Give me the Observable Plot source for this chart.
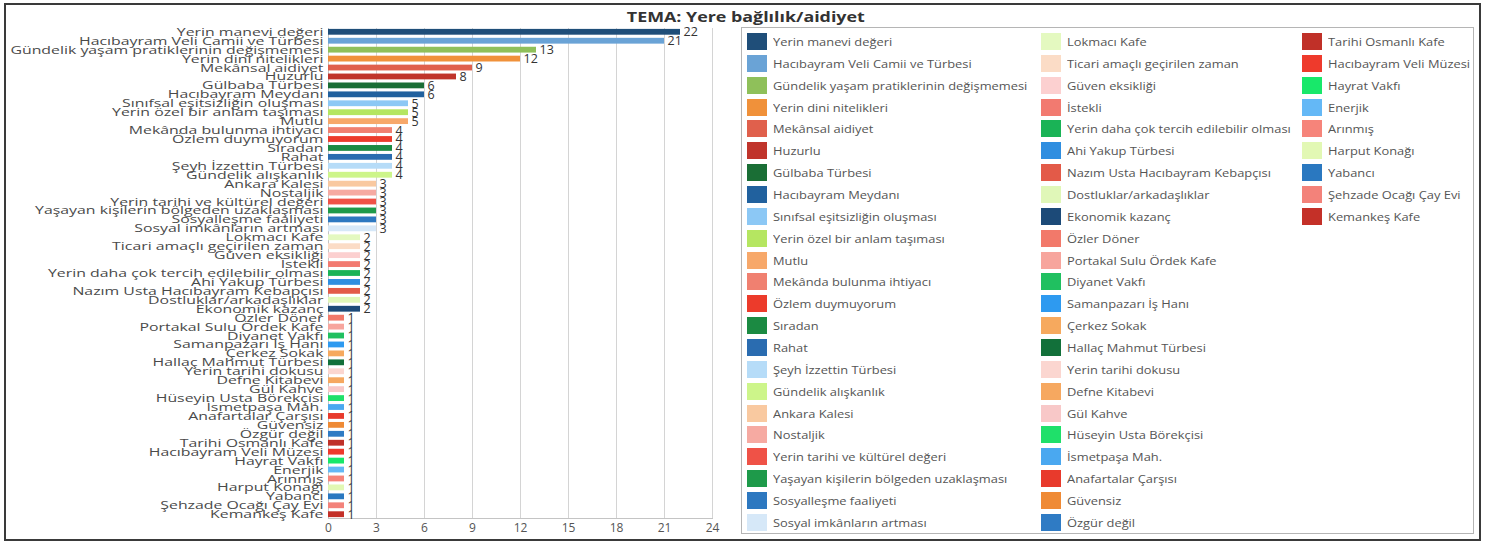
<!DOCTYPE html>
<html><head><meta charset="utf-8">
<script src="https://cdn.jsdelivr.net/npm/d3@7"></script>
<script src="https://cdn.jsdelivr.net/npm/@observablehq/plot@0.6"></script>
<style>
body{margin:0;background:#fff;width:1492px;height:544px;overflow:hidden;font-family:"Open Sans",sans-serif;position:relative}
#frame{position:absolute;left:4px;top:3px;width:1473px;height:534px;border:2px solid #3a3a3a;}
#title{position:absolute;left:0;width:1492px;top:6px;text-align:center;font-weight:bold;font-size:15px;color:#333;line-height:20px;transform:scaleX(1.19);transform-origin:747px 50%}
#chart{position:absolute;left:0;top:0;}
#legend{position:absolute;left:741px;top:27px;width:731px;height:505px;border:1px solid #b5b5b5;}
.item{position:absolute;height:17px;font-size:11px;color:#555;white-space:nowrap;line-height:17px}
.sw{display:inline-block;width:20px;height:17px;vertical-align:top;margin-right:6px}
.lt{display:inline-block;transform:scaleX(1.17);transform-origin:0 50%}
</style>
</head><body>
<div id="frame"></div>
<div id="title">TEMA: Yere bağlılık/aidiyet</div>
<div id="chart"></div>
<div id="legend"></div>
<script>
const categories = [
"Yerin manevi değeri","Hacıbayram Veli Camii ve Türbesi","Gündelik yaşam pratiklerinin değişmemesi","Yerin dini nitelikleri","Mekânsal aidiyet","Huzurlu","Gülbaba Türbesi","Hacıbayram Meydanı","Sınıfsal eşitsizliğin oluşması","Yerin özel bir anlam taşıması","Mutlu","Mekânda bulunma ihtiyacı","Özlem duymuyorum","Sıradan","Rahat","Şeyh İzzettin Türbesi","Gündelik alışkanlık","Ankara Kalesi","Nostaljik","Yerin tarihi ve kültürel değeri","Yaşayan kişilerin bölgeden uzaklaşması","Sosyalleşme faaliyeti","Sosyal imkânların artması",
"Lokmacı Kafe","Ticari amaçlı geçirilen zaman","Güven eksikliği","İstekli","Yerin daha çok tercih edilebilir olması","Ahi Yakup Türbesi","Nazım Usta Hacıbayram Kebapçısı","Dostluklar/arkadaşlıklar","Ekonomik kazanç","Özler Döner","Portakal Sulu Ördek Kafe","Diyanet Vakfı","Samanpazarı İş Hanı","Çerkez Sokak","Hallaç Mahmut Türbesi","Yerin tarihi dokusu","Defne Kitabevi","Gül Kahve","Hüseyin Usta Börekçisi","İsmetpaşa Mah.","Anafartalar Çarşısı","Güvensiz","Özgür değil",
"Tarihi Osmanlı Kafe","Hacıbayram Veli Müzesi","Hayrat Vakfı","Enerjik","Arınmış","Harput Konağı","Yabancı","Şehzade Ocağı Çay Evi","Kemankeş Kafe"];
const values = [22,21,13,12,9,8,6,6,5,5,5,4,4,4,4,4,4,3,3,3,3,3,3,2,2,2,2,2,2,2,2,2,1,1,1,1,1,1,1,1,1,1,1,1,1,1,1,1,1,1,1,1,1,1,1];
const colors = [
"#1f4e79","#6aa3d6","#8fc05a","#f0913a","#e0604c","#c0342b","#1a6e35","#21619e","#8cc8f5","#b5e661","#f7a86a","#f08070","#ec3b2b","#1b8a42","#2a6cb0","#b6dcf8","#cdf58a","#f9c9a0","#f6aaa2","#ef5247","#1e9a4a","#2d78c0","#d6e8f8",
"#e4f9c0","#fbdcc6","#fcd0d0","#f27a70","#1ab356","#2f8ee0","#e35a48","#e0f7b8","#1c4a78","#f2796a","#f7a59d","#20c060","#2e9af0","#f6a95e","#12703a","#fbd6d0","#f6a860","#f8c8c8","#1fe06a","#4aa8f0","#e83a2c","#ef8a35","#2f7bc4",
"#c03028","#ee3a2c","#18e86a","#64b8f6","#f6847a","#e2f8b4","#2a78c0","#f3827a","#c43028"];
const xTicks = [0,3,6,9,12,15,18,21,24];
const legendColumns = [23,23,9];

const data = categories.map((name,i)=>({name, value: values[i]}));

const chart = Plot.plot({
  width: 735,
  height: 544,
  marginLeft: 328,
  marginRight: 23,
  marginTop: 28,
  marginBottom: 26,
  style: {fontFamily: '"Open Sans", sans-serif', background: "transparent"},
  x: {domain: [0,24]},
  y: {domain: categories, paddingInner: 0.35, paddingOuter: 0.1},
  color: {domain: categories, range: colors},
  marks: [
    Plot.gridX(xTicks, {stroke: "#d4d4d4", strokeOpacity: 1}),
    Plot.ruleX([0], {stroke: "#c4c4c4"}),
    Plot.frame({anchor: "bottom", stroke: "#c4c4c4"}),
    Plot.barX(data, {x: "value", y: "name", fill: "name"}),
    Plot.text(data, {x: "value", y: "name", text: d => String(d.value), dx: 3, textAnchor: "start", fontSize: 12.5, fill: "#333", ariaLabel: "value-label"}),
    Plot.axisX(xTicks, {tickSize: 0, tickPadding: 5, fontSize: 12, fill: "#555", label: null}),
    Plot.axisY({tickSize: 0, tickPadding: 5, fontSize: 11, fill: "#4a4a4a", label: null})
  ]
});
document.getElementById("chart").appendChild(chart);

function stretch(sel, k) {
  chart.querySelectorAll(sel).forEach(t => {
    const w = t.getComputedTextLength();
    t.setAttribute("textLength", (w * k).toFixed(1));
    t.setAttribute("lengthAdjust", "spacingAndGlyphs");
  });
}
stretch('g[aria-label="y-axis tick label"] text', 1.44);
stretch('g[aria-label="value-label"] text', 1.1);

const legend = document.getElementById("legend");
const colX = [5, 299, 560];
let idx = 0;
legendColumns.forEach((n, c) => {
  for (let r = 0; r < n; r++, idx++) {
    const div = document.createElement("div");
    div.className = "item";
    div.style.left = colX[c] + "px";
    div.style.top = (5 + r * 21.86) + "px";
    const sw = document.createElement("span");
    sw.className = "sw";
    sw.style.background = colors[idx];
    div.appendChild(sw);
    const lt = document.createElement("span");
    lt.className = "lt";
    lt.textContent = categories[idx];
    div.appendChild(lt);
    legend.appendChild(div);
  }
});
</script>
</body></html>
